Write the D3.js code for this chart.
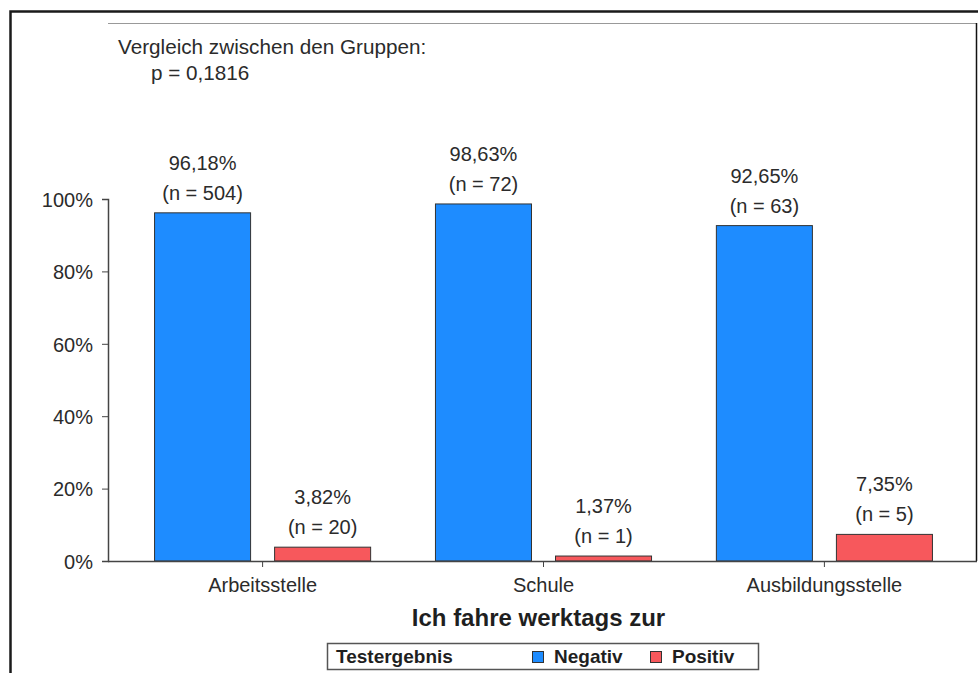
<!DOCTYPE html>
<html>
<head>
<meta charset="utf-8">
<script src="https://cdn.jsdelivr.net/npm/d3@7"></script>
<style>
	body { margin: 0; background: #fff; }
	svg text { font-family: "Liberation Sans", Arial, sans-serif; fill: #2b2b2b; }
</style>
</head>
<body>
<div id="chart"></div>
<script>
const categories = ["Arbeitsstelle", "Schule", "Ausbildungsstelle"];
const groups = ["Negativ", "Positiv"];
const percentNegativ = [96.18, 98.63, 92.65];
const percentPositiv = [3.82, 1.37, 7.35];
const countNegativ = [504, 72, 63];
const countPositiv = [20, 1, 5];
const yTicks = [0, 20, 40, 60, 80, 100];
const colors = ["#1e8cff", "#f7585c"];

const width = 978,
		height = 673,
		plot = { left: 108, right: 977, top: 23, bottom: 561 };

const rows = [];
categories.forEach((c, i) => {
	rows.push({ cat: c, group: groups[0], pct: percentNegativ[i], n: countNegativ[i] });
	rows.push({ cat: c, group: groups[1], pct: percentPositiv[i], n: countPositiv[i] });
});

const fmt = (v) => v.toFixed(2).replace(".", ",") + "%";

const svg = d3.select("#chart")
	.append("svg")
		.attr("width", width)
		.attr("height", height);

// outer frame
svg.append("path")
	.attr("d", `M10.5,${height + 5}V11.5H${width + 5}`)
	.attr("fill", "none")
	.attr("stroke", "#1a1a1a")
	.attr("stroke-width", 2.5);

const x = d3.scaleBand()
	.domain(categories)
	.range([plot.left + 1.5, plot.right + 0.5])
	.paddingInner(0)
	.paddingOuter(0.045);

const xSub = d3.scaleBand()
	.domain(groups)
	.range([0, x.bandwidth()])
	.paddingInner(0.2)
	.paddingOuter(0.27);

const y = d3.scaleLinear()
	.domain([0, 100])
	.range([plot.bottom, plot.bottom - 362]);

// inner box: top (light) and right (dark)
svg.append("line")
	.attr("x1", plot.left).attr("x2", plot.right)
	.attr("y1", plot.top + 0.5).attr("y2", plot.top + 0.5)
	.attr("stroke", "#999");
svg.append("line")
	.attr("x1", plot.right - 0.5).attr("x2", plot.right - 0.5)
	.attr("y1", plot.top).attr("y2", plot.bottom)
	.attr("stroke", "#111")
	.attr("stroke-width", 1.5);

// bars
svg.append("g")
	.selectAll("rect")
	.data(rows)
	.enter()
	.append("rect")
		.attr("x", (d) => x(d.cat) + xSub(d.group))
		.attr("width", xSub.bandwidth())
		.attr("y", (d) => y(d.pct))
		.attr("height", (d) => y(0) - y(d.pct))
		.attr("fill", (d) => colors[groups.indexOf(d.group)])
		.attr("stroke", "#333")
		.attr("stroke-width", 1);

// value labels
const labels = svg.append("g")
	.selectAll("text")
	.data(rows)
	.enter()
	.append("text")
		.attr("text-anchor", "middle")
		.style("font-size", "20px")
		.attr("transform", (d) => `translate(${x(d.cat) + xSub(d.group) + xSub.bandwidth() / 2},${y(d.pct) - 13})`);
labels.append("tspan")
	.attr("x", 0)
	.attr("y", -30)
	.text((d) => fmt(d.pct));
labels.append("tspan")
	.attr("x", 0)
	.attr("y", 0)
	.text((d) => `(n = ${d.n})`);

// y axis
const yAxis = svg.append("g")
	.attr("transform", `translate(${plot.left},0)`)
	.call(d3.axisLeft(y)
		.tickValues(yTicks)
		.tickSize(6)
		.tickPadding(9)
		.tickFormat((d) => d + "%"));

// x axis
const xAxis = svg.append("g")
	.attr("transform", `translate(0,${plot.bottom})`)
	.call(d3.axisBottom(x).tickSize(6).tickPadding(9).tickSizeOuter(0));
xAxis.select(".domain").attr("d", `M${plot.left},0.5H${plot.right}`);

[yAxis, xAxis].forEach((ax) => {
	ax.select(".domain").attr("stroke", "#444").attr("stroke-width", 1.5);
	ax.selectAll(".tick line").attr("stroke", "#444");
	ax.selectAll(".tick text")
		.style("font-size", "20px")
		.style("font-family", "'Liberation Sans', Arial, sans-serif")
		.attr("fill", "#2b2b2b");
});
yAxis.selectAll(".tick text").attr("dy", "0.36em");
xAxis.selectAll(".tick text").attr("dy", "0.78em");

// x axis title
svg.append("text")
	.attr("x", (plot.left + plot.right) / 2 - 4)
	.attr("y", 626)
	.attr("text-anchor", "middle")
	.style("font-size", "24px")
	.style("font-weight", "bold")
	.style("fill", "#1f1f1f")
	.text("Ich fahre werktags zur");

// annotation
svg.append("text")
	.attr("x", 118)
	.attr("y", 54)
	.style("font-size", "20.7px")
	.text("Vergleich zwischen den Gruppen:");
svg.append("text")
	.attr("x", 151)
	.attr("y", 80)
	.style("font-size", "20.7px")
	.text("p = 0,1816");

// legend
const legend = svg.append("g");
legend.append("rect")
	.attr("x", 327.5).attr("y", 643.5)
	.attr("width", 431).attr("height", 26)
	.attr("fill", "#fff")
	.attr("stroke", "#555")
	.attr("stroke-width", 1.5);
legend.append("text")
	.attr("x", 336).attr("y", 663)
	.style("font-size", "19px")
	.style("font-weight", "bold")
	.style("fill", "#1f1f1f")
	.text("Testergebnis");

const legendX = [532, 650];
const items = legend.selectAll("g.item")
	.data(groups)
	.enter()
	.append("g")
		.attr("class", "item")
		.attr("transform", (d, i) => `translate(${legendX[i]},0)`);
items.append("rect")
	.attr("x", 0.5).attr("y", 651.5)
	.attr("width", 11).attr("height", 11)
	.attr("fill", (d, i) => colors[i])
	.attr("stroke", "#333");
items.append("text")
	.attr("x", 22).attr("y", 663)
	.style("font-size", "19px")
	.style("font-weight", "bold")
	.style("fill", "#1f1f1f")
	.text((d) => d);
</script>
</body>
</html>
